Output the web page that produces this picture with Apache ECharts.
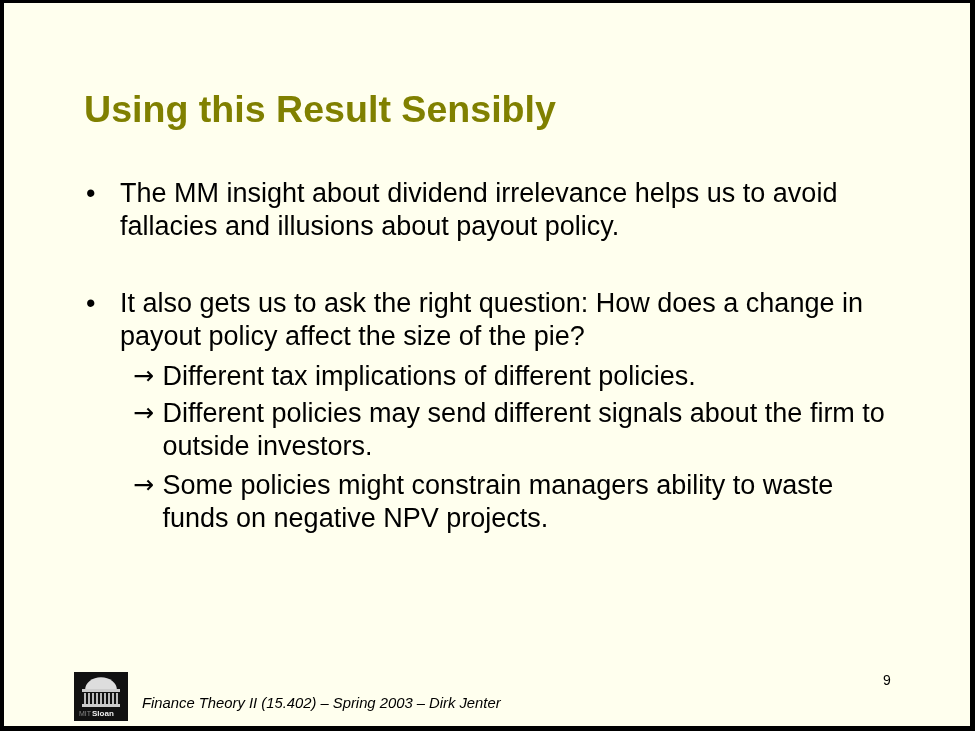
<!DOCTYPE html>
<html><head><meta charset="utf-8">
<script src="https://cdn.jsdelivr.net/npm/echarts@6/dist/echarts.min.js"></script>
<style>html,body{margin:0;padding:0;background:#000}#c{width:975px;height:731px}</style>
</head><body><div id="c"></div>
<script>
const titleText = "Using this Result Sensibly";
const bulletLines = [
  ["The MM insight about dividend irrelevance helps us to avoid", "fallacies and illusions about payout policy."],
  ["It also gets us to ask the right question: How does a change in", "payout policy affect the size of the pie?"]
];
const subBulletLines = [
  ["Different tax implications of different policies."],
  ["Different policies may send different signals about the firm to", "outside investors."],
  ["Some policies might constrain managers ability to waste", "funds on negative NPV projects."]
];
const footerText = "Finance Theory II (15.402) \u2013 Spring 2003 \u2013 Dirk Jenter";
const pageNumber = "9";

const FONT = '"Liberation Sans", Arial, Helvetica, sans-serif';
const BODY = "27px " + FONT;
const els = [];
// slide background with black frame
els.push({type:'rect', shape:{x:0,y:0,width:975,height:731}, style:{fill:'#000'}});
els.push({type:'rect', shape:{x:4,y:3,width:966,height:723}, style:{fill:'#FFFFEE'}});
// title
els.push({type:'text', x:84, y:111.5, style:{text:titleText, font:"bold 37.6px "+FONT, fill:'#808000', textVerticalAlign:'middle'}});
// bullets
const bulletY = [194.5, 304.5];
bulletLines.forEach((lines, i) => {
  els.push({type:'text', x:86, y:bulletY[i], style:{text:'\u2022', font:BODY, fill:'#000', textVerticalAlign:'middle'}});
  lines.forEach((t, j) => {
    els.push({type:'text', x:120, y:bulletY[i] + j*33, style:{text:t, font:BODY, fill:'#000', textVerticalAlign:'middle'}});
  });
});
const subY = [377.5, 414.5, 486.5];
subBulletLines.forEach((lines, i) => {
  els.push({type:'text', x:133, y:subY[i], style:{text:'\u2192', font:'25px "DejaVu Sans", sans-serif', fill:'#000', textVerticalAlign:'middle'}});
  lines.forEach((t, j) => {
    els.push({type:'text', x:162.5, y:subY[i] + j*33, style:{text:t, font:BODY, fill:'#000', textVerticalAlign:'middle'}});
  });
});
// footer
els.push({type:'text', x:142, y:704, style:{text:footerText, font:"italic 14.8px "+FONT, fill:'#000', textVerticalAlign:'middle'}});
els.push({type:'text', x:883, y:681, style:{text:pageNumber, font:"14px "+FONT, fill:'#000', textVerticalAlign:'middle'}});
// logo
els.push({type:'rect', shape:{x:74,y:672,width:54,height:49}, style:{fill:'#111'}});
els.push({type:'sector', shape:{cx:101,cy:690,r:16,r0:0,startAngle:Math.PI,endAngle:2*Math.PI}, scaleY:0.8, originX:101, originY:690, style:{fill:'#ddd'}});
els.push({type:'rect', shape:{x:82,y:689,width:38,height:3}, style:{fill:'#ccc'}});
for (let k=0;k<9;k++) els.push({type:'rect', shape:{x:84+k*4,y:693,width:2,height:11}, style:{fill:'#bbb'}});
els.push({type:'rect', shape:{x:82,y:704,width:38,height:3}, style:{fill:'#ccc'}});
els.push({type:'text', x:79, y:714, style:{text:'MIT', font:"7px "+FONT, fill:'#888', textVerticalAlign:'middle'}});
els.push({type:'text', x:92, y:714, style:{text:'Sloan', font:"bold 8px "+FONT, fill:'#eee', textVerticalAlign:'middle'}});

const chart = echarts.init(document.getElementById('c'), null, {renderer:'canvas'});
chart.setOption({animation:false, graphic:{elements:els}});
</script></body></html>
